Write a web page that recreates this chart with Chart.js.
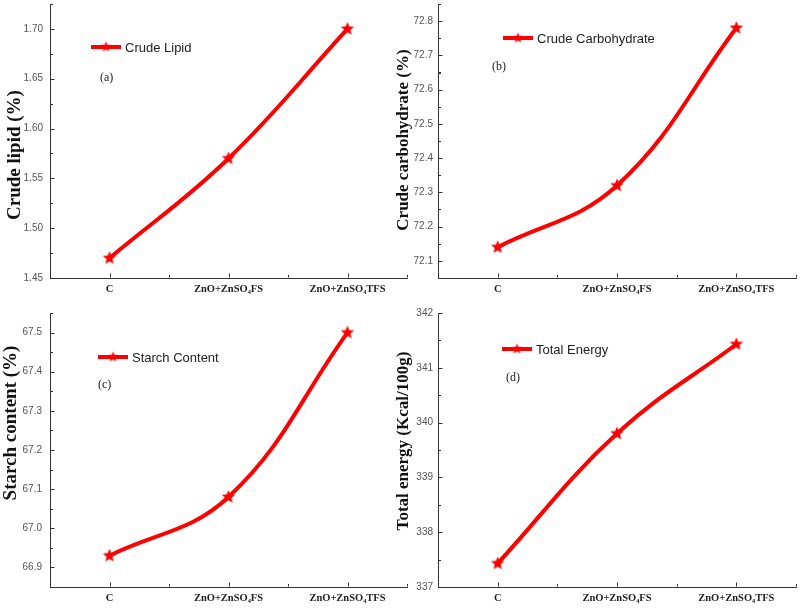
<!DOCTYPE html>
<html>
<head>
<meta charset="utf-8">
<script src="https://cdn.jsdelivr.net/npm/chart.js@4.4.1/dist/chart.umd.min.js"></script>
<style>
    body { margin: 0; background: #fff; }
    #wrap { position: relative; width: 800px; height: 609px; overflow: hidden; }
    #wrap canvas { position: absolute; }
</style>
</head>
<body>
<div id="wrap">
    <canvas id="panelA" width="410" height="300" style="left:0;top:0;width:410px;height:300px"></canvas>
    <canvas id="panelB" width="408" height="300" style="left:392px;top:0;width:408px;height:300px"></canvas>
    <canvas id="panelC" width="410" height="309" style="left:0;top:300px;width:410px;height:309px"></canvas>
    <canvas id="panelD" width="408" height="309" style="left:392px;top:300px;width:408px;height:309px"></canvas>
</div>
<script>
const categories = ['C', 'ZnO+ZnSO₄FS', 'ZnO+ZnSO₄TFS'];

const crudeLipid = [1.47, 1.57, 1.70];
const crudeCarbohydrate = [72.14, 72.32, 72.78];
const starchContent = [66.93, 67.08, 67.50];
const totalEnergy = [337.43, 339.80, 341.43];

const red = '#ff0000';
const axisColor = '#333';

function makeStar(r) {
    const c = document.createElement('canvas');
    const s = Math.ceil(r * 2 + 2);
    c.width = c.height = s;
    const g = c.getContext('2d');
    g.beginPath();
    for (let i = 0; i < 10; i++) {
        const rad = i % 2 ? r * 0.45 : r;
        const a = -Math.PI / 2 + i * Math.PI / 5;
        g.lineTo(s / 2 + rad * Math.cos(a), s / 2 + rad * Math.sin(a));
    }
    g.closePath();
    g.fillStyle = red;
    g.fill();
    return c;
}

const star = makeStar(7);
const legendStar = makeStar(5.5);

// inward major/minor tick marks, like the original plotting software
const inwardTicks = {
    id: 'inwardTicks',
    afterDraw(chart, args, opts) {
        const { ctx, chartArea } = chart;
        const x = chart.scales.x;
        const y = chart.scales.y;
        const step = opts.step;
        ctx.save();
        ctx.strokeStyle = axisColor;
        ctx.lineWidth = 1;
        ctx.beginPath();
        const left = chartArea.left + 0.5;
        y.ticks.forEach((t) => {
            const py = Math.round(y.getPixelForValue(t.value)) + 0.5;
            ctx.moveTo(left, py);
            ctx.lineTo(left + 4, py);
            [t.value - step / 2, t.value + step / 2].forEach((m) => {
                if (m < y.min - 1e-9 || m > y.max + 1e-9) return;
                const pm = Math.round(y.getPixelForValue(m)) + 0.5;
                ctx.moveTo(left, pm);
                ctx.lineTo(left + 2.5, pm);
            });
        });
        const bottom = chartArea.bottom - 0.5;
        categories.forEach((c, i) => {
            const px = Math.round(x.getPixelForValue(i)) + 0.5;
            ctx.moveTo(px, bottom);
            ctx.lineTo(px, bottom - 4);
        });
        for (let i = -0.5; i <= categories.length - 0.5; i += 1) {
            const px = Math.round(x.getPixelForValue(i)) + 0.5;
            ctx.moveTo(px, bottom);
            ctx.lineTo(px, bottom - 2.5);
        }
        ctx.stroke();
        ctx.restore();
    },
};

// inset legend, panel tag and y title
const decor = {
    id: 'decor',
    afterDraw(chart, args, opts) {
        const ctx = chart.ctx;
        ctx.save();

        const [lx, ly] = opts.legendAt;
        ctx.strokeStyle = red;
        ctx.lineWidth = 4;
        ctx.beginPath();
        ctx.moveTo(lx, ly);
        ctx.lineTo(lx + 30, ly);
        ctx.stroke();
        ctx.drawImage(legendStar, lx + 15 - legendStar.width / 2, ly - legendStar.height / 2);
        ctx.fillStyle = '#222';
        ctx.font = '13px "Liberation Sans", Arial, sans-serif';
        ctx.textBaseline = 'middle';
        ctx.textAlign = 'left';
        ctx.fillText(opts.legend, lx + 34, ly + 1);

        ctx.font = '12px "Liberation Serif", "Times New Roman", serif';
        ctx.fillText(opts.tag, opts.tagAt[0], opts.tagAt[1]);

        ctx.translate(opts.titleAt[0], opts.titleAt[1]);
        ctx.rotate(-Math.PI / 2);
        ctx.textAlign = 'center';
        ctx.fillStyle = '#111';
        ctx.font = 'bold ' + opts.titleSize + 'px "Liberation Serif", "Times New Roman", serif';
        ctx.fillText(opts.title, 0, 0);
        ctx.restore();
    },
};

const panels = [
    {
        id: 'panelA', values: crudeLipid, legend: 'Crude Lipid', tag: '(a)', title: 'Crude lipid (%)',
        titleSize: 19, titleAt: [15, 155], legendAt: [91, 47], tagAt: [100, 78],
        min: 1.45, max: 1.725, step: 0.05, decimals: 2,
        yWidth: 50, labelPad: 7, padding: { top: 4, right: 3 }, xHeight: 22,
    },
    {
        id: 'panelB', values: crudeCarbohydrate, legend: 'Crude Carbohydrate', tag: '(b)', title: 'Crude carbohydrate (%)',
        titleSize: 17, titleAt: [12, 140], legendAt: [111, 38], tagAt: [100, 67],
        min: 72.05, max: 72.85, step: 0.1, decimals: 1,
        yWidth: 46, labelPad: 5, padding: { top: 4, right: 4 }, xHeight: 22,
    },
    {
        id: 'panelC', values: starchContent, legend: 'Starch Content', tag: '(c)', title: 'Starch content (%)',
        titleSize: 19, titleAt: [11, 123], legendAt: [98, 57], tagAt: [98, 85],
        min: 66.85, max: 67.55, step: 0.1, decimals: 1,
        yWidth: 50, labelPad: 8, padding: { top: 13, right: 3 }, xHeight: 22,
    },
    {
        id: 'panelD', values: totalEnergy, legend: 'Total Energy', tag: '(d)', title: 'Total energy (Kcal/100g)',
        titleSize: 17, titleAt: [12, 141], legendAt: [110, 49], tagAt: [114, 78],
        min: 337, max: 342, step: 1, decimals: 0,
        yWidth: 46, labelPad: 5, padding: { top: 13, right: 4 }, xHeight: 22,
    },
];

panels.forEach((p) => {
    new Chart(document.getElementById(p.id), {
        type: 'line',
        data: {
            labels: categories,
            datasets: [{
                data: p.values,
                borderColor: red,
                backgroundColor: red,
                borderWidth: 4,
                tension: 0.4,
                pointStyle: star,
                pointRadius: 7,
                fill: false,
                clip: false,
            }],
        },
        options: {
            responsive: false,
            animation: false,
            events: [],
            layout: { autoPadding: false, padding: { left: 0, bottom: 0, ...p.padding } },
            plugins: {
                legend: { display: false },
                tooltip: { enabled: false },
                inwardTicks: { step: p.step },
                decor: p,
            },
            scales: {
                x: {
                    type: 'category',
                    offset: true,
                    grid: { display: true, color: 'transparent', drawTicks: false, offset: true },
                    border: { display: true, color: axisColor, width: 1 },
                    ticks: {
                        padding: 5,
                        maxRotation: 0,
                        autoSkip: false,
                        color: '#222',
                        font: { family: '"Liberation Serif", "Times New Roman", serif', size: 10.5, weight: 'bold' },
                    },
                    afterFit(scale) {
                        scale.height = p.xHeight;
                        scale.paddingLeft = 0;
                        scale.paddingRight = 0;
                    },
                },
                y: {
                    min: p.min,
                    max: p.max,
                    grid: { display: true, color: 'transparent', drawTicks: false },
                    border: { display: true, color: axisColor, width: 1 },
                    ticks: {
                        padding: p.labelPad,
                        color: '#555',
                        font: { family: '"Liberation Sans", Arial, sans-serif', size: 10 },
                        callback: (v) => Number(v).toFixed(p.decimals),
                    },
                    afterBuildTicks(scale) {
                        const ticks = [];
                        const first = Math.ceil(p.min / p.step - 1e-6);
                        for (let k = first; k * p.step <= p.max + 1e-9; k++) {
                            ticks.push({ value: +(k * p.step).toFixed(6) });
                        }
                        scale.ticks = ticks;
                    },
                    afterFit(scale) {
                        scale.width = p.yWidth;
                        scale.paddingTop = 0;
                        scale.paddingBottom = 0;
                    },
                },
            },
        },
        plugins: [inwardTicks, decor],
    });
});
</script>
</body>
</html>
